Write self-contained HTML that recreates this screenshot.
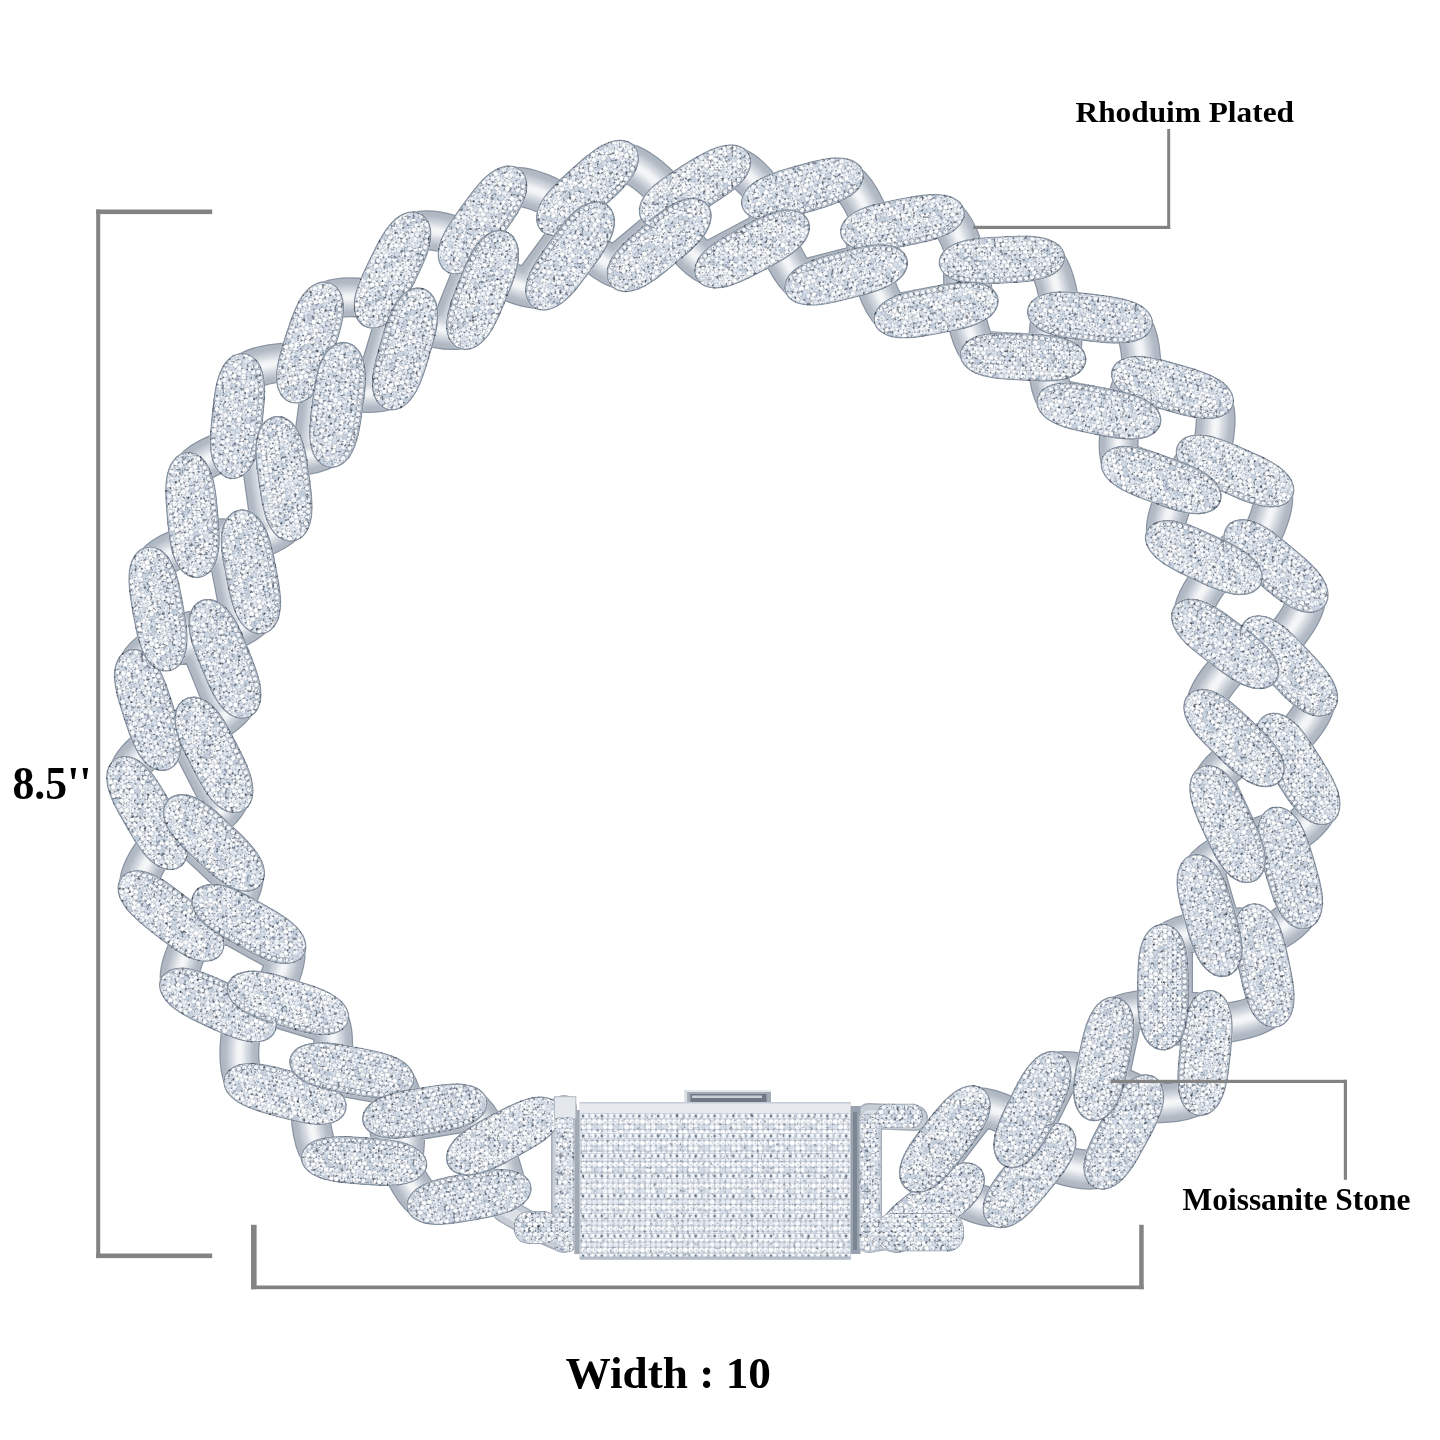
<!DOCTYPE html>
<html lang="en"><head><meta charset="utf-8"><title>Bracelet size guide</title>
<style>
html,body{margin:0;padding:0;background:#fff;}
body{width:1440px;height:1440px;overflow:hidden;}
svg{display:block;}
text{font-family:"Liberation Serif","DejaVu Serif",serif;font-weight:700;fill:#000;}
</style></head><body>
<svg width="1440" height="1440" viewBox="0 0 1440 1440">
<defs>
<pattern id="pv0" width="43.2" height="37.6" patternUnits="userSpaceOnUse" x="-2" y="-2"><rect width="43.2" height="37.6" fill="#aab3bf"/><circle cx="0" cy="0" r="2.5" fill="#fbfcfe"/><circle cx="5.4" cy="0" r="2.5" fill="#f3f6fa"/><circle cx="10.8" cy="0" r="2.5" fill="#ebf0f6"/><circle cx="11.5" cy="0.6" r="0.8" fill="#aebccd"/><circle cx="16.2" cy="0" r="2.5" fill="#eef2f7"/><circle cx="15.7" cy="0.5" r="1.2" fill="#b9c6d5"/><circle cx="21.6" cy="0" r="2.5" fill="#cbd5e1"/><circle cx="22.3" cy="0.6" r="0.8" fill="#aebccd"/><circle cx="27" cy="0" r="2.5" fill="#ffffff"/><circle cx="27.7" cy="0.6" r="0.8" fill="#aebccd"/><circle cx="32.4" cy="0" r="2.5" fill="#d6dee9"/><circle cx="33.1" cy="0.6" r="0.8" fill="#aebccd"/><circle cx="37.8" cy="0" r="2.5" fill="#f8fafc"/><circle cx="43.2" cy="0" r="2.5" fill="#fbfcfe"/><circle cx="2.7" cy="4.7" r="2.5" fill="#eef2f7"/><circle cx="8.1" cy="4.7" r="2.5" fill="#ffffff"/><circle cx="8.8" cy="5.3" r="0.8" fill="#aebccd"/><circle cx="13.5" cy="4.7" r="2.5" fill="#ffffff"/><circle cx="14" cy="4.2" r="1" fill="#fff"/><circle cx="18.9" cy="4.7" r="2.5" fill="#ffffff"/><circle cx="24.3" cy="4.7" r="2.5" fill="#ebf0f6"/><circle cx="29.7" cy="4.7" r="2.5" fill="#d6dee9"/><circle cx="35.1" cy="4.7" r="2.5" fill="#f8fafc"/><circle cx="35.6" cy="4.2" r="1" fill="#fff"/><circle cx="40.5" cy="4.7" r="2.5" fill="#e2e9f1"/><circle cx="40" cy="5.2" r="1.2" fill="#b9c6d5"/><circle cx="45.9" cy="4.7" r="2.5" fill="#eef2f7"/><circle cx="0" cy="9.4" r="2.5" fill="#cbd5e1"/><circle cx="0.7" cy="10" r="0.8" fill="#aebccd"/><circle cx="5.4" cy="9.4" r="2.5" fill="#ffffff"/><circle cx="4.9" cy="9.9" r="1.2" fill="#b9c6d5"/><circle cx="10.8" cy="9.4" r="2.5" fill="#fbfcfe"/><circle cx="16.2" cy="9.4" r="2.5" fill="#f8fafc"/><circle cx="16.9" cy="10" r="0.8" fill="#aebccd"/><circle cx="21.6" cy="9.4" r="2.5" fill="#ffffff"/><circle cx="27" cy="9.4" r="2.5" fill="#f8fafc"/><circle cx="26.5" cy="9.9" r="1.2" fill="#b9c6d5"/><circle cx="32.4" cy="9.4" r="2.5" fill="#e2e9f1"/><circle cx="37.8" cy="9.4" r="2.5" fill="#f3f6fa"/><circle cx="43.2" cy="9.4" r="2.5" fill="#cbd5e1"/><circle cx="43.9" cy="10" r="0.8" fill="#aebccd"/><circle cx="2.7" cy="14.1" r="2.5" fill="#ffffff"/><circle cx="3.4" cy="14.7" r="0.8" fill="#aebccd"/><circle cx="8.1" cy="14.1" r="2.5" fill="#e2e9f1"/><circle cx="13.5" cy="14.1" r="2.5" fill="#ffffff"/><circle cx="18.9" cy="14.1" r="2.5" fill="#ffffff"/><circle cx="18.4" cy="14.6" r="1.2" fill="#b9c6d5"/><circle cx="24.3" cy="14.1" r="2.5" fill="#ffffff"/><circle cx="29.7" cy="14.1" r="2.5" fill="#fbfcfe"/><circle cx="29.2" cy="14.6" r="1.2" fill="#b9c6d5"/><circle cx="35.1" cy="14.1" r="2.5" fill="#fbfcfe"/><circle cx="40.5" cy="14.1" r="2.5" fill="#d6dee9"/><circle cx="41" cy="13.6" r="1" fill="#fff"/><circle cx="45.9" cy="14.1" r="2.5" fill="#ffffff"/><circle cx="46.6" cy="14.7" r="0.8" fill="#aebccd"/><circle cx="0" cy="18.8" r="2.5" fill="#ffffff"/><circle cx="5.4" cy="18.8" r="2.5" fill="#ffffff"/><circle cx="5.9" cy="18.3" r="1" fill="#fff"/><circle cx="10.8" cy="18.8" r="2.5" fill="#ffffff"/><circle cx="10.3" cy="19.3" r="1.2" fill="#b9c6d5"/><circle cx="16.2" cy="18.8" r="2.5" fill="#ffffff"/><circle cx="16.7" cy="18.3" r="1" fill="#fff"/><circle cx="21.6" cy="18.8" r="2.5" fill="#f8fafc"/><circle cx="27" cy="18.8" r="2.5" fill="#f8fafc"/><circle cx="27.7" cy="19.4" r="0.8" fill="#aebccd"/><circle cx="32.4" cy="18.8" r="2.5" fill="#ffffff"/><circle cx="37.8" cy="18.8" r="2.5" fill="#ffffff"/><circle cx="38.5" cy="19.4" r="0.8" fill="#aebccd"/><circle cx="43.2" cy="18.8" r="2.5" fill="#ffffff"/><circle cx="2.7" cy="23.5" r="2.5" fill="#f3f6fa"/><circle cx="8.1" cy="23.5" r="2.5" fill="#ebf0f6"/><circle cx="8.8" cy="24.1" r="0.8" fill="#aebccd"/><circle cx="13.5" cy="23.5" r="2.5" fill="#f8fafc"/><circle cx="18.9" cy="23.5" r="2.5" fill="#cbd5e1"/><circle cx="18.4" cy="24" r="1.2" fill="#b9c6d5"/><circle cx="24.3" cy="23.5" r="2.5" fill="#eef2f7"/><circle cx="29.7" cy="23.5" r="2.5" fill="#eef2f7"/><circle cx="35.1" cy="23.5" r="2.5" fill="#f8fafc"/><circle cx="35.8" cy="24.1" r="0.8" fill="#aebccd"/><circle cx="40.5" cy="23.5" r="2.5" fill="#ffffff"/><circle cx="41.2" cy="24.1" r="0.8" fill="#aebccd"/><circle cx="45.9" cy="23.5" r="2.5" fill="#f3f6fa"/><circle cx="0" cy="28.2" r="2.5" fill="#f8fafc"/><circle cx="-0.5" cy="28.7" r="1.2" fill="#b9c6d5"/><circle cx="5.4" cy="28.2" r="2.5" fill="#e2e9f1"/><circle cx="10.8" cy="28.2" r="2.5" fill="#f3f6fa"/><circle cx="10.3" cy="28.7" r="1.2" fill="#b9c6d5"/><circle cx="16.2" cy="28.2" r="2.5" fill="#ffffff"/><circle cx="16.7" cy="27.7" r="1" fill="#fff"/><circle cx="21.6" cy="28.2" r="2.5" fill="#ebf0f6"/><circle cx="22.3" cy="28.8" r="0.8" fill="#aebccd"/><circle cx="27" cy="28.2" r="2.5" fill="#e2e9f1"/><circle cx="32.4" cy="28.2" r="2.5" fill="#ffffff"/><circle cx="37.8" cy="28.2" r="2.5" fill="#ffffff"/><circle cx="38.5" cy="28.8" r="0.8" fill="#aebccd"/><circle cx="43.2" cy="28.2" r="2.5" fill="#f8fafc"/><circle cx="42.7" cy="28.7" r="1.2" fill="#b9c6d5"/><circle cx="2.7" cy="32.9" r="2.5" fill="#f3f6fa"/><circle cx="3.2" cy="32.4" r="1" fill="#fff"/><circle cx="8.1" cy="32.9" r="2.5" fill="#ffffff"/><circle cx="8.8" cy="33.5" r="0.8" fill="#aebccd"/><circle cx="13.5" cy="32.9" r="2.5" fill="#ebf0f6"/><circle cx="14.2" cy="33.5" r="0.8" fill="#aebccd"/><circle cx="18.9" cy="32.9" r="2.5" fill="#f3f6fa"/><circle cx="24.3" cy="32.9" r="2.5" fill="#fbfcfe"/><circle cx="29.7" cy="32.9" r="2.5" fill="#fbfcfe"/><circle cx="29.2" cy="33.4" r="1.2" fill="#b9c6d5"/><circle cx="35.1" cy="32.9" r="2.5" fill="#ffffff"/><circle cx="35.8" cy="33.5" r="0.8" fill="#aebccd"/><circle cx="40.5" cy="32.9" r="2.5" fill="#fbfcfe"/><circle cx="45.9" cy="32.9" r="2.5" fill="#f3f6fa"/><circle cx="46.4" cy="32.4" r="1" fill="#fff"/><circle cx="0" cy="37.6" r="2.5" fill="#fbfcfe"/><circle cx="5.4" cy="37.6" r="2.5" fill="#f3f6fa"/><circle cx="10.8" cy="37.6" r="2.5" fill="#ebf0f6"/><circle cx="11.5" cy="38.2" r="0.8" fill="#aebccd"/><circle cx="16.2" cy="37.6" r="2.5" fill="#eef2f7"/><circle cx="15.7" cy="38.1" r="1.2" fill="#b9c6d5"/><circle cx="21.6" cy="37.6" r="2.5" fill="#cbd5e1"/><circle cx="22.3" cy="38.2" r="0.8" fill="#aebccd"/><circle cx="27" cy="37.6" r="2.5" fill="#ffffff"/><circle cx="27.7" cy="38.2" r="0.8" fill="#aebccd"/><circle cx="32.4" cy="37.6" r="2.5" fill="#d6dee9"/><circle cx="33.1" cy="38.2" r="0.8" fill="#aebccd"/><circle cx="37.8" cy="37.6" r="2.5" fill="#f8fafc"/><circle cx="43.2" cy="37.6" r="2.5" fill="#fbfcfe"/><circle cx="2.7" cy="1.6" r="0.6" fill="#5f6c7e"/><circle cx="24.3" cy="1.6" r="0.8" fill="#5f6c7e"/><circle cx="29.7" cy="1.6" r="0.6" fill="#5f6c7e"/><circle cx="35.1" cy="1.6" r="1" fill="#5f6c7e"/><circle cx="5.4" cy="6.3" r="0.6" fill="#5f6c7e"/><circle cx="16.2" cy="6.3" r="0.8" fill="#5f6c7e"/><circle cx="32.4" cy="6.3" r="1" fill="#5f6c7e"/><circle cx="37.8" cy="6.3" r="0.8" fill="#5f6c7e"/><circle cx="43.2" cy="6.3" r="0.6" fill="#5f6c7e"/><circle cx="2.7" cy="11" r="1" fill="#5f6c7e"/><circle cx="13.5" cy="11" r="0.8" fill="#5f6c7e"/><circle cx="18.9" cy="11" r="0.8" fill="#5f6c7e"/><circle cx="24.3" cy="11" r="0.6" fill="#5f6c7e"/><circle cx="35.1" cy="11" r="0.8" fill="#5f6c7e"/><circle cx="10.8" cy="15.7" r="1" fill="#5f6c7e"/><circle cx="37.8" cy="15.7" r="0.8" fill="#5f6c7e"/><circle cx="2.7" cy="20.4" r="1" fill="#5f6c7e"/><circle cx="24.3" cy="20.4" r="0.6" fill="#5f6c7e"/><circle cx="10.8" cy="25.1" r="0.8" fill="#5f6c7e"/><circle cx="32.4" cy="25.1" r="1" fill="#5f6c7e"/><circle cx="2.7" cy="29.8" r="1" fill="#5f6c7e"/><circle cx="18.9" cy="29.8" r="0.6" fill="#5f6c7e"/><circle cx="29.7" cy="29.8" r="1" fill="#5f6c7e"/><circle cx="40.5" cy="29.8" r="0.8" fill="#5f6c7e"/><circle cx="27" cy="34.5" r="1" fill="#5f6c7e"/><circle cx="32.4" cy="34.5" r="0.8" fill="#5f6c7e"/><circle cx="37.8" cy="34.5" r="0.6" fill="#5f6c7e"/></pattern>
<pattern id="pv1" width="43.2" height="37.6" patternUnits="userSpaceOnUse" x="-2" y="-2"><rect width="43.2" height="37.6" fill="#aab3bf"/><circle cx="0" cy="0" r="2.5" fill="#ffffff"/><circle cx="5.4" cy="0" r="2.5" fill="#ffffff"/><circle cx="5.9" cy="-0.5" r="1" fill="#fff"/><circle cx="10.8" cy="0" r="2.5" fill="#eef2f7"/><circle cx="16.2" cy="0" r="2.5" fill="#d6dee9"/><circle cx="21.6" cy="0" r="2.5" fill="#ebf0f6"/><circle cx="27" cy="0" r="2.5" fill="#f8fafc"/><circle cx="32.4" cy="0" r="2.5" fill="#f8fafc"/><circle cx="31.9" cy="0.5" r="1.2" fill="#b9c6d5"/><circle cx="37.8" cy="0" r="2.5" fill="#d6dee9"/><circle cx="43.2" cy="0" r="2.5" fill="#ffffff"/><circle cx="2.7" cy="4.7" r="2.5" fill="#eef2f7"/><circle cx="3.2" cy="4.2" r="1" fill="#fff"/><circle cx="8.1" cy="4.7" r="2.5" fill="#d6dee9"/><circle cx="13.5" cy="4.7" r="2.5" fill="#ffffff"/><circle cx="14.2" cy="5.3" r="0.8" fill="#aebccd"/><circle cx="18.9" cy="4.7" r="2.5" fill="#d6dee9"/><circle cx="24.3" cy="4.7" r="2.5" fill="#f3f6fa"/><circle cx="25" cy="5.3" r="0.8" fill="#aebccd"/><circle cx="29.7" cy="4.7" r="2.5" fill="#d6dee9"/><circle cx="35.1" cy="4.7" r="2.5" fill="#f3f6fa"/><circle cx="40.5" cy="4.7" r="2.5" fill="#f8fafc"/><circle cx="45.9" cy="4.7" r="2.5" fill="#eef2f7"/><circle cx="46.4" cy="4.2" r="1" fill="#fff"/><circle cx="0" cy="9.4" r="2.5" fill="#f3f6fa"/><circle cx="-0.5" cy="9.9" r="1.2" fill="#b9c6d5"/><circle cx="5.4" cy="9.4" r="2.5" fill="#ffffff"/><circle cx="10.8" cy="9.4" r="2.5" fill="#ebf0f6"/><circle cx="11.3" cy="8.9" r="1" fill="#fff"/><circle cx="16.2" cy="9.4" r="2.5" fill="#cbd5e1"/><circle cx="21.6" cy="9.4" r="2.5" fill="#eef2f7"/><circle cx="22.1" cy="8.9" r="1" fill="#fff"/><circle cx="27" cy="9.4" r="2.5" fill="#ffffff"/><circle cx="32.4" cy="9.4" r="2.5" fill="#f8fafc"/><circle cx="31.9" cy="9.9" r="1.2" fill="#b9c6d5"/><circle cx="37.8" cy="9.4" r="2.5" fill="#ffffff"/><circle cx="38.3" cy="8.9" r="1" fill="#fff"/><circle cx="43.2" cy="9.4" r="2.5" fill="#f3f6fa"/><circle cx="42.7" cy="9.9" r="1.2" fill="#b9c6d5"/><circle cx="2.7" cy="14.1" r="2.5" fill="#f8fafc"/><circle cx="8.1" cy="14.1" r="2.5" fill="#f8fafc"/><circle cx="7.6" cy="14.6" r="1.2" fill="#b9c6d5"/><circle cx="13.5" cy="14.1" r="2.5" fill="#ebf0f6"/><circle cx="18.9" cy="14.1" r="2.5" fill="#fbfcfe"/><circle cx="19.6" cy="14.7" r="0.8" fill="#aebccd"/><circle cx="24.3" cy="14.1" r="2.5" fill="#cbd5e1"/><circle cx="24.8" cy="13.6" r="1" fill="#fff"/><circle cx="29.7" cy="14.1" r="2.5" fill="#f8fafc"/><circle cx="35.1" cy="14.1" r="2.5" fill="#eef2f7"/><circle cx="40.5" cy="14.1" r="2.5" fill="#d6dee9"/><circle cx="45.9" cy="14.1" r="2.5" fill="#f8fafc"/><circle cx="0" cy="18.8" r="2.5" fill="#f8fafc"/><circle cx="5.4" cy="18.8" r="2.5" fill="#f3f6fa"/><circle cx="10.8" cy="18.8" r="2.5" fill="#f3f6fa"/><circle cx="16.2" cy="18.8" r="2.5" fill="#ffffff"/><circle cx="15.7" cy="19.3" r="1.2" fill="#b9c6d5"/><circle cx="21.6" cy="18.8" r="2.5" fill="#ebf0f6"/><circle cx="22.1" cy="18.3" r="1" fill="#fff"/><circle cx="27" cy="18.8" r="2.5" fill="#e2e9f1"/><circle cx="32.4" cy="18.8" r="2.5" fill="#f8fafc"/><circle cx="31.9" cy="19.3" r="1.2" fill="#b9c6d5"/><circle cx="37.8" cy="18.8" r="2.5" fill="#e2e9f1"/><circle cx="43.2" cy="18.8" r="2.5" fill="#f8fafc"/><circle cx="2.7" cy="23.5" r="2.5" fill="#cbd5e1"/><circle cx="8.1" cy="23.5" r="2.5" fill="#ebf0f6"/><circle cx="13.5" cy="23.5" r="2.5" fill="#fbfcfe"/><circle cx="14" cy="23" r="1" fill="#fff"/><circle cx="18.9" cy="23.5" r="2.5" fill="#fbfcfe"/><circle cx="24.3" cy="23.5" r="2.5" fill="#cbd5e1"/><circle cx="29.7" cy="23.5" r="2.5" fill="#f3f6fa"/><circle cx="30.2" cy="23" r="1" fill="#fff"/><circle cx="35.1" cy="23.5" r="2.5" fill="#f3f6fa"/><circle cx="35.8" cy="24.1" r="0.8" fill="#aebccd"/><circle cx="40.5" cy="23.5" r="2.5" fill="#fbfcfe"/><circle cx="45.9" cy="23.5" r="2.5" fill="#cbd5e1"/><circle cx="0" cy="28.2" r="2.5" fill="#f3f6fa"/><circle cx="5.4" cy="28.2" r="2.5" fill="#cbd5e1"/><circle cx="10.8" cy="28.2" r="2.5" fill="#ffffff"/><circle cx="16.2" cy="28.2" r="2.5" fill="#f3f6fa"/><circle cx="16.9" cy="28.8" r="0.8" fill="#aebccd"/><circle cx="21.6" cy="28.2" r="2.5" fill="#d6dee9"/><circle cx="22.1" cy="27.7" r="1" fill="#fff"/><circle cx="27" cy="28.2" r="2.5" fill="#fbfcfe"/><circle cx="27.7" cy="28.8" r="0.8" fill="#aebccd"/><circle cx="32.4" cy="28.2" r="2.5" fill="#cbd5e1"/><circle cx="33.1" cy="28.8" r="0.8" fill="#aebccd"/><circle cx="37.8" cy="28.2" r="2.5" fill="#ffffff"/><circle cx="43.2" cy="28.2" r="2.5" fill="#f3f6fa"/><circle cx="2.7" cy="32.9" r="2.5" fill="#d6dee9"/><circle cx="8.1" cy="32.9" r="2.5" fill="#eef2f7"/><circle cx="8.8" cy="33.5" r="0.8" fill="#aebccd"/><circle cx="13.5" cy="32.9" r="2.5" fill="#eef2f7"/><circle cx="14" cy="32.4" r="1" fill="#fff"/><circle cx="18.9" cy="32.9" r="2.5" fill="#ffffff"/><circle cx="24.3" cy="32.9" r="2.5" fill="#f8fafc"/><circle cx="29.7" cy="32.9" r="2.5" fill="#f8fafc"/><circle cx="35.1" cy="32.9" r="2.5" fill="#eef2f7"/><circle cx="34.6" cy="33.4" r="1.2" fill="#b9c6d5"/><circle cx="40.5" cy="32.9" r="2.5" fill="#eef2f7"/><circle cx="45.9" cy="32.9" r="2.5" fill="#d6dee9"/><circle cx="0" cy="37.6" r="2.5" fill="#ffffff"/><circle cx="5.4" cy="37.6" r="2.5" fill="#ffffff"/><circle cx="5.9" cy="37.1" r="1" fill="#fff"/><circle cx="10.8" cy="37.6" r="2.5" fill="#eef2f7"/><circle cx="16.2" cy="37.6" r="2.5" fill="#d6dee9"/><circle cx="21.6" cy="37.6" r="2.5" fill="#ebf0f6"/><circle cx="27" cy="37.6" r="2.5" fill="#f8fafc"/><circle cx="32.4" cy="37.6" r="2.5" fill="#f8fafc"/><circle cx="31.9" cy="38.1" r="1.2" fill="#b9c6d5"/><circle cx="37.8" cy="37.6" r="2.5" fill="#d6dee9"/><circle cx="43.2" cy="37.6" r="2.5" fill="#ffffff"/><circle cx="29.7" cy="1.6" r="1" fill="#5f6c7e"/><circle cx="5.4" cy="6.3" r="1" fill="#5f6c7e"/><circle cx="21.6" cy="6.3" r="1" fill="#5f6c7e"/><circle cx="8.1" cy="11" r="0.6" fill="#5f6c7e"/><circle cx="24.3" cy="11" r="0.6" fill="#5f6c7e"/><circle cx="35.1" cy="11" r="0.8" fill="#5f6c7e"/><circle cx="27" cy="15.7" r="0.6" fill="#5f6c7e"/><circle cx="32.4" cy="15.7" r="1" fill="#5f6c7e"/><circle cx="2.7" cy="20.4" r="0.8" fill="#5f6c7e"/><circle cx="8.1" cy="20.4" r="0.8" fill="#5f6c7e"/><circle cx="13.5" cy="20.4" r="0.8" fill="#5f6c7e"/><circle cx="18.9" cy="20.4" r="0.8" fill="#5f6c7e"/><circle cx="35.1" cy="20.4" r="0.8" fill="#5f6c7e"/><circle cx="5.4" cy="25.1" r="1" fill="#5f6c7e"/><circle cx="16.2" cy="25.1" r="0.8" fill="#5f6c7e"/><circle cx="27" cy="25.1" r="0.8" fill="#5f6c7e"/><circle cx="32.4" cy="25.1" r="0.6" fill="#5f6c7e"/><circle cx="37.8" cy="25.1" r="0.6" fill="#5f6c7e"/><circle cx="43.2" cy="25.1" r="1" fill="#5f6c7e"/><circle cx="13.5" cy="29.8" r="0.8" fill="#5f6c7e"/><circle cx="24.3" cy="29.8" r="1" fill="#5f6c7e"/><circle cx="40.5" cy="29.8" r="1" fill="#5f6c7e"/><circle cx="5.4" cy="34.5" r="0.8" fill="#5f6c7e"/><circle cx="21.6" cy="34.5" r="1" fill="#5f6c7e"/><circle cx="27" cy="34.5" r="0.8" fill="#5f6c7e"/></pattern>
<pattern id="pv2" width="43.2" height="37.6" patternUnits="userSpaceOnUse" x="-2" y="-2"><rect width="43.2" height="37.6" fill="#aab3bf"/><circle cx="0" cy="0" r="2.5" fill="#ffffff"/><circle cx="-0.5" cy="0.5" r="1.2" fill="#b9c6d5"/><circle cx="5.4" cy="0" r="2.5" fill="#d6dee9"/><circle cx="6.1" cy="0.6" r="0.8" fill="#aebccd"/><circle cx="10.8" cy="0" r="2.5" fill="#ffffff"/><circle cx="11.5" cy="0.6" r="0.8" fill="#aebccd"/><circle cx="16.2" cy="0" r="2.5" fill="#e2e9f1"/><circle cx="16.9" cy="0.6" r="0.8" fill="#aebccd"/><circle cx="21.6" cy="0" r="2.5" fill="#ffffff"/><circle cx="22.3" cy="0.6" r="0.8" fill="#aebccd"/><circle cx="27" cy="0" r="2.5" fill="#eef2f7"/><circle cx="32.4" cy="0" r="2.5" fill="#ffffff"/><circle cx="37.8" cy="0" r="2.5" fill="#ffffff"/><circle cx="43.2" cy="0" r="2.5" fill="#ffffff"/><circle cx="42.7" cy="0.5" r="1.2" fill="#b9c6d5"/><circle cx="2.7" cy="4.7" r="2.5" fill="#ffffff"/><circle cx="8.1" cy="4.7" r="2.5" fill="#cbd5e1"/><circle cx="13.5" cy="4.7" r="2.5" fill="#f8fafc"/><circle cx="14.2" cy="5.3" r="0.8" fill="#aebccd"/><circle cx="18.9" cy="4.7" r="2.5" fill="#ffffff"/><circle cx="19.4" cy="4.2" r="1" fill="#fff"/><circle cx="24.3" cy="4.7" r="2.5" fill="#ffffff"/><circle cx="29.7" cy="4.7" r="2.5" fill="#ffffff"/><circle cx="29.2" cy="5.2" r="1.2" fill="#b9c6d5"/><circle cx="35.1" cy="4.7" r="2.5" fill="#eef2f7"/><circle cx="35.8" cy="5.3" r="0.8" fill="#aebccd"/><circle cx="40.5" cy="4.7" r="2.5" fill="#ffffff"/><circle cx="41" cy="4.2" r="1" fill="#fff"/><circle cx="45.9" cy="4.7" r="2.5" fill="#ffffff"/><circle cx="0" cy="9.4" r="2.5" fill="#ffffff"/><circle cx="5.4" cy="9.4" r="2.5" fill="#f8fafc"/><circle cx="10.8" cy="9.4" r="2.5" fill="#cbd5e1"/><circle cx="16.2" cy="9.4" r="2.5" fill="#d6dee9"/><circle cx="21.6" cy="9.4" r="2.5" fill="#cbd5e1"/><circle cx="22.3" cy="10" r="0.8" fill="#aebccd"/><circle cx="27" cy="9.4" r="2.5" fill="#e2e9f1"/><circle cx="26.5" cy="9.9" r="1.2" fill="#b9c6d5"/><circle cx="32.4" cy="9.4" r="2.5" fill="#f8fafc"/><circle cx="32.9" cy="8.9" r="1" fill="#fff"/><circle cx="37.8" cy="9.4" r="2.5" fill="#fbfcfe"/><circle cx="38.3" cy="8.9" r="1" fill="#fff"/><circle cx="43.2" cy="9.4" r="2.5" fill="#ffffff"/><circle cx="2.7" cy="14.1" r="2.5" fill="#ffffff"/><circle cx="2.2" cy="14.6" r="1.2" fill="#b9c6d5"/><circle cx="8.1" cy="14.1" r="2.5" fill="#ffffff"/><circle cx="13.5" cy="14.1" r="2.5" fill="#ffffff"/><circle cx="14.2" cy="14.7" r="0.8" fill="#aebccd"/><circle cx="18.9" cy="14.1" r="2.5" fill="#e2e9f1"/><circle cx="24.3" cy="14.1" r="2.5" fill="#ebf0f6"/><circle cx="23.8" cy="14.6" r="1.2" fill="#b9c6d5"/><circle cx="29.7" cy="14.1" r="2.5" fill="#f8fafc"/><circle cx="35.1" cy="14.1" r="2.5" fill="#f8fafc"/><circle cx="40.5" cy="14.1" r="2.5" fill="#ebf0f6"/><circle cx="41.2" cy="14.7" r="0.8" fill="#aebccd"/><circle cx="45.9" cy="14.1" r="2.5" fill="#ffffff"/><circle cx="45.4" cy="14.6" r="1.2" fill="#b9c6d5"/><circle cx="0" cy="18.8" r="2.5" fill="#e2e9f1"/><circle cx="0.7" cy="19.4" r="0.8" fill="#aebccd"/><circle cx="5.4" cy="18.8" r="2.5" fill="#ebf0f6"/><circle cx="10.8" cy="18.8" r="2.5" fill="#fbfcfe"/><circle cx="11.3" cy="18.3" r="1" fill="#fff"/><circle cx="16.2" cy="18.8" r="2.5" fill="#f8fafc"/><circle cx="15.7" cy="19.3" r="1.2" fill="#b9c6d5"/><circle cx="21.6" cy="18.8" r="2.5" fill="#f8fafc"/><circle cx="27" cy="18.8" r="2.5" fill="#f8fafc"/><circle cx="27.5" cy="18.3" r="1" fill="#fff"/><circle cx="32.4" cy="18.8" r="2.5" fill="#e2e9f1"/><circle cx="33.1" cy="19.4" r="0.8" fill="#aebccd"/><circle cx="37.8" cy="18.8" r="2.5" fill="#fbfcfe"/><circle cx="43.2" cy="18.8" r="2.5" fill="#e2e9f1"/><circle cx="43.9" cy="19.4" r="0.8" fill="#aebccd"/><circle cx="2.7" cy="23.5" r="2.5" fill="#eef2f7"/><circle cx="8.1" cy="23.5" r="2.5" fill="#cbd5e1"/><circle cx="7.6" cy="24" r="1.2" fill="#b9c6d5"/><circle cx="13.5" cy="23.5" r="2.5" fill="#ffffff"/><circle cx="18.9" cy="23.5" r="2.5" fill="#ffffff"/><circle cx="24.3" cy="23.5" r="2.5" fill="#ffffff"/><circle cx="23.8" cy="24" r="1.2" fill="#b9c6d5"/><circle cx="29.7" cy="23.5" r="2.5" fill="#ebf0f6"/><circle cx="30.4" cy="24.1" r="0.8" fill="#aebccd"/><circle cx="35.1" cy="23.5" r="2.5" fill="#ffffff"/><circle cx="34.6" cy="24" r="1.2" fill="#b9c6d5"/><circle cx="40.5" cy="23.5" r="2.5" fill="#f8fafc"/><circle cx="45.9" cy="23.5" r="2.5" fill="#eef2f7"/><circle cx="0" cy="28.2" r="2.5" fill="#ffffff"/><circle cx="-0.5" cy="28.7" r="1.2" fill="#b9c6d5"/><circle cx="5.4" cy="28.2" r="2.5" fill="#e2e9f1"/><circle cx="5.9" cy="27.7" r="1" fill="#fff"/><circle cx="10.8" cy="28.2" r="2.5" fill="#ffffff"/><circle cx="11.3" cy="27.7" r="1" fill="#fff"/><circle cx="16.2" cy="28.2" r="2.5" fill="#ffffff"/><circle cx="16.9" cy="28.8" r="0.8" fill="#aebccd"/><circle cx="21.6" cy="28.2" r="2.5" fill="#cbd5e1"/><circle cx="22.1" cy="27.7" r="1" fill="#fff"/><circle cx="27" cy="28.2" r="2.5" fill="#d6dee9"/><circle cx="32.4" cy="28.2" r="2.5" fill="#eef2f7"/><circle cx="32.9" cy="27.7" r="1" fill="#fff"/><circle cx="37.8" cy="28.2" r="2.5" fill="#f8fafc"/><circle cx="43.2" cy="28.2" r="2.5" fill="#ffffff"/><circle cx="42.7" cy="28.7" r="1.2" fill="#b9c6d5"/><circle cx="2.7" cy="32.9" r="2.5" fill="#f8fafc"/><circle cx="2.2" cy="33.4" r="1.2" fill="#b9c6d5"/><circle cx="8.1" cy="32.9" r="2.5" fill="#e2e9f1"/><circle cx="13.5" cy="32.9" r="2.5" fill="#ebf0f6"/><circle cx="18.9" cy="32.9" r="2.5" fill="#f8fafc"/><circle cx="24.3" cy="32.9" r="2.5" fill="#ebf0f6"/><circle cx="25" cy="33.5" r="0.8" fill="#aebccd"/><circle cx="29.7" cy="32.9" r="2.5" fill="#eef2f7"/><circle cx="30.4" cy="33.5" r="0.8" fill="#aebccd"/><circle cx="35.1" cy="32.9" r="2.5" fill="#f8fafc"/><circle cx="40.5" cy="32.9" r="2.5" fill="#d6dee9"/><circle cx="45.9" cy="32.9" r="2.5" fill="#f8fafc"/><circle cx="45.4" cy="33.4" r="1.2" fill="#b9c6d5"/><circle cx="0" cy="37.6" r="2.5" fill="#ffffff"/><circle cx="-0.5" cy="38.1" r="1.2" fill="#b9c6d5"/><circle cx="5.4" cy="37.6" r="2.5" fill="#d6dee9"/><circle cx="6.1" cy="38.2" r="0.8" fill="#aebccd"/><circle cx="10.8" cy="37.6" r="2.5" fill="#ffffff"/><circle cx="11.5" cy="38.2" r="0.8" fill="#aebccd"/><circle cx="16.2" cy="37.6" r="2.5" fill="#e2e9f1"/><circle cx="16.9" cy="38.2" r="0.8" fill="#aebccd"/><circle cx="21.6" cy="37.6" r="2.5" fill="#ffffff"/><circle cx="22.3" cy="38.2" r="0.8" fill="#aebccd"/><circle cx="27" cy="37.6" r="2.5" fill="#eef2f7"/><circle cx="32.4" cy="37.6" r="2.5" fill="#ffffff"/><circle cx="37.8" cy="37.6" r="2.5" fill="#ffffff"/><circle cx="43.2" cy="37.6" r="2.5" fill="#ffffff"/><circle cx="42.7" cy="38.1" r="1.2" fill="#b9c6d5"/><circle cx="8.1" cy="1.6" r="0.6" fill="#5f6c7e"/><circle cx="40.5" cy="1.6" r="0.8" fill="#5f6c7e"/><circle cx="16.2" cy="6.3" r="0.6" fill="#5f6c7e"/><circle cx="21.6" cy="6.3" r="1" fill="#5f6c7e"/><circle cx="27" cy="6.3" r="0.6" fill="#5f6c7e"/><circle cx="37.8" cy="6.3" r="1" fill="#5f6c7e"/><circle cx="2.7" cy="11" r="1" fill="#5f6c7e"/><circle cx="21.6" cy="15.7" r="0.6" fill="#5f6c7e"/><circle cx="2.7" cy="20.4" r="0.6" fill="#5f6c7e"/><circle cx="13.5" cy="20.4" r="0.6" fill="#5f6c7e"/><circle cx="35.1" cy="20.4" r="1" fill="#5f6c7e"/><circle cx="40.5" cy="20.4" r="0.8" fill="#5f6c7e"/><circle cx="5.4" cy="25.1" r="0.6" fill="#5f6c7e"/><circle cx="10.8" cy="25.1" r="0.8" fill="#5f6c7e"/><circle cx="16.2" cy="25.1" r="1" fill="#5f6c7e"/><circle cx="21.6" cy="25.1" r="1" fill="#5f6c7e"/><circle cx="27" cy="25.1" r="0.8" fill="#5f6c7e"/><circle cx="43.2" cy="25.1" r="1" fill="#5f6c7e"/><circle cx="8.1" cy="29.8" r="1" fill="#5f6c7e"/><circle cx="13.5" cy="29.8" r="1" fill="#5f6c7e"/><circle cx="18.9" cy="29.8" r="0.8" fill="#5f6c7e"/><circle cx="24.3" cy="29.8" r="0.8" fill="#5f6c7e"/><circle cx="29.7" cy="29.8" r="0.6" fill="#5f6c7e"/><circle cx="35.1" cy="29.8" r="0.8" fill="#5f6c7e"/><circle cx="40.5" cy="29.8" r="1" fill="#5f6c7e"/><circle cx="10.8" cy="34.5" r="0.6" fill="#5f6c7e"/><circle cx="16.2" cy="34.5" r="0.6" fill="#5f6c7e"/></pattern>
<pattern id="cl" width="18.8" height="20" patternUnits="userSpaceOnUse" x="583" y="1106"><rect y="7" width="18.8" height="6" fill="#c9d0d9"/><circle cx="3.1" cy="10" r="2.5" fill="#edf1f5"/><circle cx="3.5" cy="9.4" r="1.1" fill="#fff"/><circle cx="9.4" cy="10" r="2.5" fill="#edf1f5"/><circle cx="9.8" cy="9.4" r="1.1" fill="#fff"/><circle cx="15.6" cy="10" r="2.5" fill="#edf1f5"/><circle cx="16" cy="9.4" r="1.1" fill="#fff"/><circle cx="0" cy="10" r="1.3" fill="#6c7888"/><circle cx="18.8" cy="10" r="1.3" fill="#6c7888"/><circle cx="6.25" cy="10" r="0.7" fill="#8793a3"/><circle cx="12.5" cy="10" r="0.9" fill="#7a8797"/></pattern>
<path id="b0" d="M63.5 0L63.3 2.9L62.5 5.8L61.3 8.6L59.6 11.3L57.4 13.8L54.7 16.2L51.5 18.4L47.7 20.3L43.3 22L38.3 23.4L32.4 24.5L25.5 25.3L16.8 25.8L0 26L-16.8 25.8L-25.5 25.3L-32.4 24.5L-38.3 23.4L-43.3 22L-47.7 20.3L-51.5 18.4L-54.7 16.2L-57.4 13.8L-59.6 11.3L-61.3 8.6L-62.5 5.8L-63.3 2.9L-63.5 0L-63.3 -2.9L-62.5 -5.8L-61.3 -8.6L-59.6 -11.3L-57.4 -13.8L-54.7 -16.2L-51.5 -18.4L-47.7 -20.3L-43.3 -22L-38.3 -23.4L-32.4 -24.5L-25.5 -25.3L-16.8 -25.8L-0 -26L16.8 -25.8L25.5 -25.3L32.4 -24.5L38.3 -23.4L43.3 -22L47.7 -20.3L51.5 -18.4L54.7 -16.2L57.4 -13.8L59.6 -11.3L61.3 -8.6L62.5 -5.8L63.3 -2.9Z"/>
<path id="b1" d="M62 0L61.8 2.7L61.1 5.5L59.9 8.1L58.2 10.6L56.1 13L53.4 15.3L50.3 17.3L46.6 19.2L42.3 20.7L37.4 22.1L31.7 23.1L24.9 23.9L16.4 24.3L0 24.5L-16.4 24.3L-24.9 23.9L-31.7 23.1L-37.4 22.1L-42.3 20.7L-46.6 19.2L-50.3 17.3L-53.4 15.3L-56.1 13L-58.2 10.6L-59.9 8.1L-61.1 5.5L-61.8 2.7L-62 0L-61.8 -2.7L-61.1 -5.5L-59.9 -8.1L-58.2 -10.6L-56.1 -13L-53.4 -15.3L-50.3 -17.3L-46.6 -19.2L-42.3 -20.7L-37.4 -22.1L-31.7 -23.1L-24.9 -23.9L-16.4 -24.3L-0 -24.5L16.4 -24.3L24.9 -23.9L31.7 -23.1L37.4 -22.1L42.3 -20.7L46.6 -19.2L50.3 -17.3L53.4 -15.3L56.1 -13L58.2 -10.6L59.9 -8.1L61.1 -5.5L61.8 -2.7Z"/>
<path id="b2" d="M59.1 0L58.9 2.4L58.2 4.8L57.1 7.1L55.5 9.4L53.4 11.5L50.9 13.5L47.9 15.3L44.4 16.9L40.3 18.3L35.6 19.5L30.2 20.4L23.8 21.1L15.7 21.5L0 21.6L-15.7 21.5L-23.8 21.1L-30.2 20.4L-35.6 19.5L-40.3 18.3L-44.4 16.9L-47.9 15.3L-50.9 13.5L-53.4 11.5L-55.5 9.4L-57.1 7.1L-58.2 4.8L-58.9 2.4L-59.1 0L-58.9 -2.4L-58.2 -4.8L-57.1 -7.1L-55.5 -9.4L-53.4 -11.5L-50.9 -13.5L-47.9 -15.3L-44.4 -16.9L-40.3 -18.3L-35.6 -19.5L-30.2 -20.4L-23.8 -21.1L-15.7 -21.5L-0 -21.6L15.7 -21.5L23.8 -21.1L30.2 -20.4L35.6 -19.5L40.3 -18.3L44.4 -16.9L47.9 -15.3L50.9 -13.5L53.4 -11.5L55.5 -9.4L57.1 -7.1L58.2 -4.8L58.9 -2.4Z"/>
<filter id="nz" x="0" y="0" width="1440" height="1440" filterUnits="userSpaceOnUse" color-interpolation-filters="sRGB"><feTurbulence type="fractalNoise" baseFrequency="0.32" numOctaves="2" seed="4" result="n"/><feColorMatrix in="n" type="matrix" values="2.1 0 0 0 0.1  2.1 0 0 0 0.11  2.1 0 0 0 0.13  0 0 0 0 1" result="g"/><feBlend in="SourceGraphic" in2="g" mode="multiply" result="b"/><feComposite in="b" in2="SourceAlpha" operator="in"/></filter>
<filter id="nz2" x="540" y="1080" width="440" height="200" filterUnits="userSpaceOnUse" color-interpolation-filters="sRGB"><feTurbulence type="fractalNoise" baseFrequency="0.3" numOctaves="2" seed="9" result="n"/><feColorMatrix in="n" type="matrix" values="1.5 0 0 0 0.42  1.5 0 0 0 0.43  1.5 0 0 0 0.445  0 0 0 0 1" result="g"/><feBlend in="SourceGraphic" in2="g" mode="multiply" result="b"/><feComposite in="b" in2="SourceAlpha" operator="in"/></filter>
<pattern id="cs" width="21.4" height="21.4" patternUnits="userSpaceOnUse" x="581" y="1113.5"><rect width="21.4" height="21.4" fill="#b4bdc9"/><circle cx="2.7" cy="2.7" r="2.5" fill="#fafbfd"/><circle cx="8" cy="2.7" r="2.5" fill="#e7ecf3"/><circle cx="13.4" cy="2.7" r="2.5" fill="#e7ecf3"/><circle cx="18.7" cy="2.7" r="2.5" fill="#e7ecf3"/><circle cx="2.7" cy="8" r="2.5" fill="#ffffff"/><circle cx="3.2" cy="8.5" r="0.9" fill="#c2cddb"/><circle cx="8" cy="8" r="2.5" fill="#ffffff"/><circle cx="8.5" cy="8.5" r="0.9" fill="#c2cddb"/><circle cx="13.4" cy="8" r="2.5" fill="#ffffff"/><circle cx="13.9" cy="8.5" r="0.9" fill="#c2cddb"/><circle cx="18.7" cy="8" r="2.5" fill="#ffffff"/><circle cx="2.7" cy="13.4" r="2.5" fill="#fafbfd"/><circle cx="8" cy="13.4" r="2.5" fill="#fafbfd"/><circle cx="13.4" cy="13.4" r="2.5" fill="#dde4ed"/><circle cx="13.9" cy="13.9" r="0.9" fill="#c2cddb"/><circle cx="18.7" cy="13.4" r="2.5" fill="#dde4ed"/><circle cx="2.7" cy="18.7" r="2.5" fill="#e7ecf3"/><circle cx="8" cy="18.7" r="2.5" fill="#ffffff"/><circle cx="13.4" cy="18.7" r="2.5" fill="#ffffff"/><circle cx="18.7" cy="18.7" r="2.5" fill="#ffffff"/></pattern>
<filter id="bl" x="0" y="0" width="1440" height="1440" filterUnits="userSpaceOnUse"><feGaussianBlur stdDeviation="2.2"/></filter>
<clipPath id="hp"><rect x="8" y="-40" width="70" height="80"/></clipPath><clipPath id="hn"><rect x="-78" y="-40" width="70" height="80"/></clipPath><clipPath id="cp"><rect x="-53" y="8" width="106" height="30"/></clipPath><clipPath id="cn"><rect x="-53" y="-38" width="106" height="30"/></clipPath>
<linearGradient id="mg" x1="0" y1="0" x2="1" y2="1"><stop offset="0" stop-color="#e9edf1"/><stop offset="1" stop-color="#bcc4ce"/></linearGradient>
</defs>
<rect width="1440" height="1440" fill="#fff"/>
<defs><path id="lp" d="M505.9 1190.5L432.1 1203.5C408.1 1201.6 385.3 1125.6 389.3 1125L463.3 1112.8L462 1104.9C485.9 1106.7 509.9 1189.8 505.9 1190.5ZM401.4 1163.6L326.6 1158.4C304.4 1149.3 309.7 1071 313.7 1071.7L387.5 1085.1L388.9 1077.2C411.5 1085.3 405.4 1163.9 401.4 1163.6ZM321.2 1103.7L248.8 1084.3C228.9 1070.9 246 998.5 249.8 999.7L321.5 1021.6L323.9 1014C344.3 1026.6 325.1 1104.7 321.2 1103.7ZM252 1020.8L184 989.2C166.6 972.6 207.9 912.6 211.4 914.6L277 950.9L281.8 942.2C298.4 959.5 255.6 1022.5 252 1020.8ZM200.6 939.1L141.4 892.9C128.6 872.7 175.5 823.5 178.4 826.2L233.2 877.4L241.4 868.6C255.3 888.2 203.7 941.5 200.6 939.1ZM166.2 845.5L128.8 780.5C122.6 757.3 181.8 724.8 183.6 728.4L217.7 795.2L231 788.4C236.6 811.7 168.2 848.9 166.2 845.5ZM159.6 745.7L136.4 674.3C133.8 650.5 192.8 627.3 194.3 631L222.4 700.5L239 693.8C242.3 717.6 160.8 749.5 159.6 745.7ZM164.5 645.9L151.5 572.1C153.6 548.2 224.4 534.9 225.2 538.8L239.5 612.4L258.2 608.8C257 632.8 165.2 649.9 164.5 645.9ZM195.8 552.4L189.2 477.6C193.3 454 258.4 440.7 259 444.6L269.4 518.9L289.2 516.1C286.8 540 196.1 556.3 195.8 552.4ZM233.6 453.3L241.4 378.7C251.7 357 324.2 361.4 323.6 365.3L313.7 439.7L332.5 442.2C323.7 464.5 233.2 457.3 233.6 453.3ZM298.4 378.2L321.6 306.8C334.8 286.8 399.6 304.1 398.5 307.9L377 379.8L394.3 384.9C381.1 405 297.2 382 298.4 378.2ZM376.1 303.7L408.9 236.3C425.5 218.9 483.2 245.5 481.7 249.2L453.6 318.8L468.5 324.8C453.9 343.8 374.3 307.3 376.1 303.7ZM460.5 250.3L504.5 189.7C524.1 175.7 583.1 214.2 580.7 217.4L536.6 278.1L548 286.3C528.9 301 458.1 253.6 460.5 250.3ZM559.6 213.1L615.4 162.9C637.7 154.2 683.1 209.1 680 211.7L622.6 259.9L630.3 269.1C608.3 278.7 556.7 215.8 559.6 213.1ZM663.2 206.4L726.8 166.6C749.9 160.3 784.3 221.3 780.7 223.2L714.5 258.4L718.9 266.6C695.5 271.9 659.8 208.5 663.2 206.4ZM766.5 199.3L838.5 178.7C862.5 179.2 884.5 258.2 880.6 259.2L808 277.9L809.7 284.4C785.7 284.2 762.6 200.4 766.5 199.3ZM865.7 229.7L939.3 215.3C963.2 217.4 976 298.4 972.1 299.1L898.4 313L899.2 317C875.3 314.8 861.8 230.4 865.7 229.7ZM964.6 262L1039.4 258C1062.6 264.3 1064.7 355.2 1060.7 355L985.8 351L985.6 355C962.4 348.5 960.6 262.2 964.6 262ZM1052.7 313.2L1127.3 321.8C1149.3 331.4 1140.3 415 1136.3 414.2L1062.7 399.9L1061.9 403.8C1039.9 394.4 1048.8 312.7 1052.7 313.2ZM1136.5 377.2L1208.5 397.8C1228.3 411.5 1201.4 490.4 1197.6 489.1L1127.1 463.4L1125.8 467.2C1105.9 453.8 1132.6 376.1 1136.5 377.2ZM1200.6 456L1269.4 486C1286.3 503 1243.1 571.4 1239.4 569.7L1171.5 538L1169.8 541.7C1152.2 525.3 1197 454.4 1200.6 456ZM1247.2 542L1304.8 590C1316.4 611 1260.6 665.5 1257.4 663.1L1197.5 618L1195.1 621.2C1181.8 601.2 1244.1 539.4 1247.2 542ZM1263.2 638.8L1314.8 693.2C1324.7 715.1 1266.8 763.7 1263.9 761L1209.6 709.2L1206.8 712.1C1196.4 690.6 1260.4 635.9 1263.2 638.8ZM1278.1 737.2L1317.9 800.8C1323.6 824.1 1250.5 859.1 1248.8 855.5L1217.1 787.5L1211.7 790C1207.3 766.4 1276 733.8 1278.1 737.2ZM1279.5 832L1300.5 904C1300.8 928 1228.8 953.1 1227.6 949.3L1206.7 877.3L1199 879.5C1198 855.5 1278.4 828.2 1279.5 832ZM1256.2 928.8L1271.8 1002.2C1267.2 1025.7 1173 1028.5 1173 1024.5L1173 949.5L1163 949.5C1169.8 926.5 1255.4 924.9 1256.2 928.8ZM1208.9 1015.7L1201.1 1090.3C1190.6 1111.9 1104.4 1101.3 1105.2 1097.4L1120.8 1024L1111.5 1022.1C1122 1000.5 1209.3 1011.7 1208.9 1015.7ZM1141.7 1099.1L1105.8 1164.9C1088.3 1181.3 1022.2 1150.7 1024 1147.1L1057.2 1079.9L1049.1 1075.9C1064.7 1057.6 1143.6 1095.6 1141.7 1099.1ZM1053.4 1146.6L1005.6 1204.4C985.7 1217.9 926.4 1177.1 928.9 1173.9L974.6 1114.5L967.9 1109.3C987.4 1095.3 1056 1143.5 1053.4 1146.6Z"/></defs>
<g fill="none" stroke-linejoin="round" stroke-linecap="round">
<use href="#lp" stroke="#8a94a1" stroke-width="40"/>
<use href="#lp" stroke="#b0b8c3" stroke-width="37.5"/>
<g filter="url(#bl)"><use href="#lp" stroke="#d0d6dd" stroke-width="23"/><use href="#lp" stroke="#f4f6f8" stroke-width="10"/></g>
</g>
<g fill="none" stroke-linejoin="round" stroke-linecap="round"><path d="M528 1122L564 1108L564 1240L536 1228L505 1210M915 1118L869 1116L869 1240L905 1234L950 1226" stroke="#a3acb7" stroke-width="26"/><path d="M528 1122L564 1108L564 1240L536 1228L505 1210M915 1118L869 1116L869 1240L905 1234L950 1226" stroke="#c6cdd5" stroke-width="23"/><path d="M528 1122L564 1108L564 1240L536 1228L505 1210M915 1118L869 1116L869 1240L905 1234L950 1226" stroke="#dde1e6" stroke-width="12"/></g>
<g filter="url(#nz)">
<g transform="translate(504 1136) rotate(-28) scale(1 0.955)"><use href="#b0" fill="#8994a2"/><use href="#b1" fill="url(#pv0)"/></g>
<g transform="translate(425 1111) rotate(-9.3) scale(1 0.929)"><use href="#b0" fill="#8994a2"/><use href="#b1" fill="url(#pv1)"/><g clip-path="url(#cp)" fill="none" stroke-linecap="round" stroke-dasharray="0 5.9"><use href="#b2" stroke="#a3adb9" stroke-width="6.2"/><use href="#b2" stroke="#f3f5f8" stroke-width="4.3"/></g></g>
<g transform="translate(352 1070.5) rotate(10.3) scale(1 0.930)"><use href="#b0" fill="#8994a2"/><use href="#b1" fill="url(#pv2)"/><g clip-path="url(#cp)" fill="none" stroke-linecap="round" stroke-dasharray="0 5.9"><use href="#b2" stroke="#a3adb9" stroke-width="6.2"/><use href="#b2" stroke="#f3f5f8" stroke-width="4.3"/></g></g>
<g transform="translate(288 1003) rotate(17) scale(1 0.940)"><use href="#b0" fill="#8994a2"/><use href="#b1" fill="url(#pv0)"/><g clip-path="url(#cp)" fill="none" stroke-linecap="round" stroke-dasharray="0 5.9"><use href="#b2" stroke="#a3adb9" stroke-width="6.2"/><use href="#b2" stroke="#f3f5f8" stroke-width="4.3"/></g></g>
<g transform="translate(249 924) rotate(29) scale(1 0.956)"><use href="#b0" fill="#8994a2"/><use href="#b1" fill="url(#pv1)"/><g clip-path="url(#cp)" fill="none" stroke-linecap="round" stroke-dasharray="0 5.9"><use href="#b2" stroke="#a3adb9" stroke-width="6.2"/><use href="#b2" stroke="#f3f5f8" stroke-width="4.3"/></g></g>
<g transform="translate(214 843) rotate(43) scale(1 0.973)"><use href="#b0" fill="#8994a2"/><use href="#b1" fill="url(#pv2)"/><g clip-path="url(#cn)" fill="none" stroke-linecap="round" stroke-dasharray="0 5.9"><use href="#b2" stroke="#a3adb9" stroke-width="6.2"/><use href="#b2" stroke="#f3f5f8" stroke-width="4.3"/></g></g>
<g transform="translate(214 755) rotate(63) scale(1 0.991)"><use href="#b0" fill="#8994a2"/><use href="#b1" fill="url(#pv0)"/><g clip-path="url(#cn)" fill="none" stroke-linecap="round" stroke-dasharray="0 5.9"><use href="#b2" stroke="#a3adb9" stroke-width="6.2"/><use href="#b2" stroke="#f3f5f8" stroke-width="4.3"/></g></g>
<g transform="translate(225 659) rotate(68) scale(1 0.994)"><use href="#b0" fill="#8994a2"/><use href="#b1" fill="url(#pv1)"/><g clip-path="url(#cn)" fill="none" stroke-linecap="round" stroke-dasharray="0 5.9"><use href="#b2" stroke="#a3adb9" stroke-width="6.2"/><use href="#b2" stroke="#f3f5f8" stroke-width="4.3"/></g></g>
<g transform="translate(251 572) rotate(79) scale(1 0.998)"><use href="#b0" fill="#8994a2"/><use href="#b1" fill="url(#pv2)"/><g clip-path="url(#cn)" fill="none" stroke-linecap="round" stroke-dasharray="0 5.9"><use href="#b2" stroke="#a3adb9" stroke-width="6.2"/><use href="#b2" stroke="#f3f5f8" stroke-width="4.3"/></g></g>
<g transform="translate(284 479) rotate(82) scale(1 0.999)"><use href="#b0" fill="#8994a2"/><use href="#b1" fill="url(#pv0)"/><g clip-path="url(#cn)" fill="none" stroke-linecap="round" stroke-dasharray="0 5.9"><use href="#b2" stroke="#a3adb9" stroke-width="6.2"/><use href="#b2" stroke="#f3f5f8" stroke-width="4.3"/></g></g>
<g transform="translate(337.5 405) rotate(97.6) scale(1 0.999)"><use href="#b0" fill="#8994a2"/><use href="#b1" fill="url(#pv1)"/><g clip-path="url(#cn)" fill="none" stroke-linecap="round" stroke-dasharray="0 5.9"><use href="#b2" stroke="#a3adb9" stroke-width="6.2"/><use href="#b2" stroke="#f3f5f8" stroke-width="4.3"/></g></g>
<g transform="translate(405 349) rotate(106.6) scale(1 0.996)"><use href="#b0" fill="#8994a2"/><use href="#b1" fill="url(#pv2)"/><g clip-path="url(#cp)" fill="none" stroke-linecap="round" stroke-dasharray="0 5.9"><use href="#b2" stroke="#a3adb9" stroke-width="6.2"/><use href="#b2" stroke="#f3f5f8" stroke-width="4.3"/></g></g>
<g transform="translate(482.5 290) rotate(112) scale(1 0.994)"><use href="#b0" fill="#8994a2"/><use href="#b1" fill="url(#pv0)"/><g clip-path="url(#cp)" fill="none" stroke-linecap="round" stroke-dasharray="0 5.9"><use href="#b2" stroke="#a3adb9" stroke-width="6.2"/><use href="#b2" stroke="#f3f5f8" stroke-width="4.3"/></g></g>
<g transform="translate(570 256) rotate(126) scale(1 0.984)"><use href="#b0" fill="#8994a2"/><use href="#b1" fill="url(#pv1)"/><g clip-path="url(#cp)" fill="none" stroke-linecap="round" stroke-dasharray="0 5.9"><use href="#b2" stroke="#a3adb9" stroke-width="6.2"/><use href="#b2" stroke="#f3f5f8" stroke-width="4.3"/></g></g>
<g transform="translate(659 245) rotate(140) scale(1 0.970)"><use href="#b0" fill="#8994a2"/><use href="#b1" fill="url(#pv2)"/><g clip-path="url(#cp)" fill="none" stroke-linecap="round" stroke-dasharray="0 5.9"><use href="#b2" stroke="#a3adb9" stroke-width="6.2"/><use href="#b2" stroke="#f3f5f8" stroke-width="4.3"/></g></g>
<g transform="translate(752 249) rotate(152) scale(1 0.955)"><use href="#b0" fill="#8994a2"/><use href="#b1" fill="url(#pv0)"/><g clip-path="url(#cp)" fill="none" stroke-linecap="round" stroke-dasharray="0 5.9"><use href="#b2" stroke="#a3adb9" stroke-width="6.2"/><use href="#b2" stroke="#f3f5f8" stroke-width="4.3"/></g></g>
<g transform="translate(846 275) rotate(165.5) scale(1 0.936)"><use href="#b0" fill="#8994a2"/><use href="#b1" fill="url(#pv1)"/><g clip-path="url(#cp)" fill="none" stroke-linecap="round" stroke-dasharray="0 5.9"><use href="#b2" stroke="#a3adb9" stroke-width="6.2"/><use href="#b2" stroke="#f3f5f8" stroke-width="4.3"/></g></g>
<g transform="translate(936 310) rotate(169.3) scale(1 0.931)"><use href="#b0" fill="#8994a2"/><use href="#b1" fill="url(#pv2)"/><g clip-path="url(#cp)" fill="none" stroke-linecap="round" stroke-dasharray="0 5.9"><use href="#b2" stroke="#a3adb9" stroke-width="6.2"/><use href="#b2" stroke="#f3f5f8" stroke-width="4.3"/></g></g>
<g transform="translate(1023 357) rotate(3) scale(1 0.919)"><use href="#b0" fill="#8994a2"/><use href="#b1" fill="url(#pv0)"/><g clip-path="url(#cn)" fill="none" stroke-linecap="round" stroke-dasharray="0 5.9"><use href="#b2" stroke="#a3adb9" stroke-width="6.2"/><use href="#b2" stroke="#f3f5f8" stroke-width="4.3"/></g></g>
<g transform="translate(1098.8 411) rotate(11) scale(1 0.931)"><use href="#b0" fill="#8994a2"/><use href="#b1" fill="url(#pv1)"/><g clip-path="url(#cn)" fill="none" stroke-linecap="round" stroke-dasharray="0 5.9"><use href="#b2" stroke="#a3adb9" stroke-width="6.2"/><use href="#b2" stroke="#f3f5f8" stroke-width="4.3"/></g></g>
<g transform="translate(1161 480) rotate(20) scale(1 0.944)"><use href="#b0" fill="#8994a2"/><use href="#b1" fill="url(#pv2)"/><g clip-path="url(#cn)" fill="none" stroke-linecap="round" stroke-dasharray="0 5.9"><use href="#b2" stroke="#a3adb9" stroke-width="6.2"/><use href="#b2" stroke="#f3f5f8" stroke-width="4.3"/></g></g>
<g transform="translate(1203.8 557.5) rotate(25) scale(1 0.951)"><use href="#b0" fill="#8994a2"/><use href="#b1" fill="url(#pv0)"/><g clip-path="url(#cn)" fill="none" stroke-linecap="round" stroke-dasharray="0 5.9"><use href="#b2" stroke="#a3adb9" stroke-width="6.2"/><use href="#b2" stroke="#f3f5f8" stroke-width="4.3"/></g></g>
<g transform="translate(1225 643.8) rotate(37) scale(1 0.966)"><use href="#b0" fill="#8994a2"/><use href="#b1" fill="url(#pv1)"/><g clip-path="url(#cn)" fill="none" stroke-linecap="round" stroke-dasharray="0 5.9"><use href="#b2" stroke="#a3adb9" stroke-width="6.2"/><use href="#b2" stroke="#f3f5f8" stroke-width="4.3"/></g></g>
<g transform="translate(1234 738) rotate(43.6) scale(1 0.974)"><use href="#b0" fill="#8994a2"/><use href="#b1" fill="url(#pv2)"/><g clip-path="url(#cn)" fill="none" stroke-linecap="round" stroke-dasharray="0 5.9"><use href="#b2" stroke="#a3adb9" stroke-width="6.2"/><use href="#b2" stroke="#f3f5f8" stroke-width="4.3"/></g></g>
<g transform="translate(1227.5 824) rotate(65) scale(1 0.992)"><use href="#b0" fill="#8994a2"/><use href="#b1" fill="url(#pv0)"/><g clip-path="url(#cn)" fill="none" stroke-linecap="round" stroke-dasharray="0 5.9"><use href="#b2" stroke="#a3adb9" stroke-width="6.2"/><use href="#b2" stroke="#f3f5f8" stroke-width="4.3"/></g></g>
<g transform="translate(1209.5 915.5) rotate(73.8) scale(1 0.997)"><use href="#b0" fill="#8994a2"/><use href="#b1" fill="url(#pv1)"/><g clip-path="url(#cn)" fill="none" stroke-linecap="round" stroke-dasharray="0 5.9"><use href="#b2" stroke="#a3adb9" stroke-width="6.2"/><use href="#b2" stroke="#f3f5f8" stroke-width="4.3"/></g></g>
<g transform="translate(1163 987) rotate(90) scale(1 1.000)"><use href="#b0" fill="#8994a2"/><use href="#b1" fill="url(#pv2)"/><g clip-path="url(#cn)" fill="none" stroke-linecap="round" stroke-dasharray="0 5.9"><use href="#b2" stroke="#a3adb9" stroke-width="6.2"/><use href="#b2" stroke="#f3f5f8" stroke-width="4.3"/></g></g>
<g transform="translate(1103.8 1058.8) rotate(102) scale(1 0.998)"><use href="#b0" fill="#8994a2"/><use href="#b1" fill="url(#pv0)"/><g clip-path="url(#cn)" fill="none" stroke-linecap="round" stroke-dasharray="0 5.9"><use href="#b2" stroke="#a3adb9" stroke-width="6.2"/><use href="#b2" stroke="#f3f5f8" stroke-width="4.3"/></g></g>
<g transform="translate(1032.5 1109.5) rotate(116.3) scale(1 0.991)"><use href="#b0" fill="#8994a2"/><use href="#b1" fill="url(#pv1)"/><g clip-path="url(#cn)" fill="none" stroke-linecap="round" stroke-dasharray="0 5.9"><use href="#b2" stroke="#a3adb9" stroke-width="6.2"/><use href="#b2" stroke="#f3f5f8" stroke-width="4.3"/></g></g>
<g transform="translate(945 1139) rotate(127.6) scale(1 0.982)"><use href="#b0" fill="#8994a2"/><use href="#b1" fill="url(#pv2)"/><g clip-path="url(#cn)" fill="none" stroke-linecap="round" stroke-dasharray="0 5.9"><use href="#b2" stroke="#a3adb9" stroke-width="6.2"/><use href="#b2" stroke="#f3f5f8" stroke-width="4.3"/></g></g>
<g transform="translate(469 1197) rotate(-10) scale(1 0.930)"><use href="#b0" fill="#8994a2"/><use href="#b1" fill="url(#pv1)"/><g clip-path="url(#cn)" fill="none" stroke-linecap="round" stroke-dasharray="0 5.9"><use href="#b2" stroke="#a3adb9" stroke-width="6.2"/><use href="#b2" stroke="#f3f5f8" stroke-width="4.3"/></g></g>
<g transform="translate(364 1161) rotate(4) scale(1 0.921)"><use href="#b0" fill="#8994a2"/><use href="#b1" fill="url(#pv2)"/><g clip-path="url(#cn)" fill="none" stroke-linecap="round" stroke-dasharray="0 5.9"><use href="#b2" stroke="#a3adb9" stroke-width="6.2"/><use href="#b2" stroke="#f3f5f8" stroke-width="4.3"/></g></g>
<g transform="translate(285 1094) rotate(15) scale(1 0.937)"><use href="#b0" fill="#8994a2"/><use href="#b1" fill="url(#pv0)"/><g clip-path="url(#cn)" fill="none" stroke-linecap="round" stroke-dasharray="0 5.9"><use href="#b2" stroke="#a3adb9" stroke-width="6.2"/><use href="#b2" stroke="#f3f5f8" stroke-width="4.3"/></g></g>
<g transform="translate(218 1005) rotate(25) scale(1 0.951)"><use href="#b0" fill="#8994a2"/><use href="#b1" fill="url(#pv1)"/><g clip-path="url(#cn)" fill="none" stroke-linecap="round" stroke-dasharray="0 5.9"><use href="#b2" stroke="#a3adb9" stroke-width="6.2"/><use href="#b2" stroke="#f3f5f8" stroke-width="4.3"/></g></g>
<g transform="translate(171 916) rotate(38) scale(1 0.967)"><use href="#b0" fill="#8994a2"/><use href="#b1" fill="url(#pv2)"/><g clip-path="url(#cn)" fill="none" stroke-linecap="round" stroke-dasharray="0 5.9"><use href="#b2" stroke="#a3adb9" stroke-width="6.2"/><use href="#b2" stroke="#f3f5f8" stroke-width="4.3"/></g></g>
<g transform="translate(147.5 813) rotate(60) scale(1 0.989)"><use href="#b0" fill="#8994a2"/><use href="#b1" fill="url(#pv0)"/><g clip-path="url(#cn)" fill="none" stroke-linecap="round" stroke-dasharray="0 5.9"><use href="#b2" stroke="#a3adb9" stroke-width="6.2"/><use href="#b2" stroke="#f3f5f8" stroke-width="4.3"/></g></g>
<g transform="translate(148 710) rotate(72) scale(1 0.996)"><use href="#b0" fill="#8994a2"/><use href="#b1" fill="url(#pv1)"/><g clip-path="url(#cn)" fill="none" stroke-linecap="round" stroke-dasharray="0 5.9"><use href="#b2" stroke="#a3adb9" stroke-width="6.2"/><use href="#b2" stroke="#f3f5f8" stroke-width="4.3"/></g></g>
<g transform="translate(158 609) rotate(80) scale(1 0.999)"><use href="#b0" fill="#8994a2"/><use href="#b1" fill="url(#pv2)"/><g clip-path="url(#cn)" fill="none" stroke-linecap="round" stroke-dasharray="0 5.9"><use href="#b2" stroke="#a3adb9" stroke-width="6.2"/><use href="#b2" stroke="#f3f5f8" stroke-width="4.3"/></g></g>
<g transform="translate(192.5 515) rotate(85) scale(1 1.000)"><use href="#b0" fill="#8994a2"/><use href="#b1" fill="url(#pv0)"/><g clip-path="url(#cn)" fill="none" stroke-linecap="round" stroke-dasharray="0 5.9"><use href="#b2" stroke="#a3adb9" stroke-width="6.2"/><use href="#b2" stroke="#f3f5f8" stroke-width="4.3"/></g></g>
<g transform="translate(237.5 416) rotate(96) scale(1 1.000)"><use href="#b0" fill="#8994a2"/><use href="#b1" fill="url(#pv1)"/><g clip-path="url(#cn)" fill="none" stroke-linecap="round" stroke-dasharray="0 5.9"><use href="#b2" stroke="#a3adb9" stroke-width="6.2"/><use href="#b2" stroke="#f3f5f8" stroke-width="4.3"/></g></g>
<g transform="translate(310 342.5) rotate(108) scale(1 0.996)"><use href="#b0" fill="#8994a2"/><use href="#b1" fill="url(#pv2)"/><g clip-path="url(#cn)" fill="none" stroke-linecap="round" stroke-dasharray="0 5.9"><use href="#b2" stroke="#a3adb9" stroke-width="6.2"/><use href="#b2" stroke="#f3f5f8" stroke-width="4.3"/></g></g>
<g transform="translate(392.5 270) rotate(116) scale(1 0.991)"><use href="#b0" fill="#8994a2"/><use href="#b1" fill="url(#pv0)"/><g clip-path="url(#cn)" fill="none" stroke-linecap="round" stroke-dasharray="0 5.9"><use href="#b2" stroke="#a3adb9" stroke-width="6.2"/><use href="#b2" stroke="#f3f5f8" stroke-width="4.3"/></g></g>
<g transform="translate(482.5 220) rotate(126) scale(1 0.984)"><use href="#b0" fill="#8994a2"/><use href="#b1" fill="url(#pv1)"/><g clip-path="url(#cn)" fill="none" stroke-linecap="round" stroke-dasharray="0 5.9"><use href="#b2" stroke="#a3adb9" stroke-width="6.2"/><use href="#b2" stroke="#f3f5f8" stroke-width="4.3"/></g></g>
<g transform="translate(587.5 188) rotate(138) scale(1 0.972)"><use href="#b0" fill="#8994a2"/><use href="#b1" fill="url(#pv2)"/><g clip-path="url(#cn)" fill="none" stroke-linecap="round" stroke-dasharray="0 5.9"><use href="#b2" stroke="#a3adb9" stroke-width="6.2"/><use href="#b2" stroke="#f3f5f8" stroke-width="4.3"/></g></g>
<g transform="translate(695 186.5) rotate(148) scale(1 0.960)"><use href="#b0" fill="#8994a2"/><use href="#b1" fill="url(#pv0)"/><g clip-path="url(#cn)" fill="none" stroke-linecap="round" stroke-dasharray="0 5.9"><use href="#b2" stroke="#a3adb9" stroke-width="6.2"/><use href="#b2" stroke="#f3f5f8" stroke-width="4.3"/></g></g>
<g transform="translate(802.5 189) rotate(164) scale(1 0.938)"><use href="#b0" fill="#8994a2"/><use href="#b1" fill="url(#pv1)"/><g clip-path="url(#cn)" fill="none" stroke-linecap="round" stroke-dasharray="0 5.9"><use href="#b2" stroke="#a3adb9" stroke-width="6.2"/><use href="#b2" stroke="#f3f5f8" stroke-width="4.3"/></g></g>
<g transform="translate(902.5 222.5) rotate(169) scale(1 0.931)"><use href="#b0" fill="#8994a2"/><use href="#b1" fill="url(#pv2)"/><g clip-path="url(#cn)" fill="none" stroke-linecap="round" stroke-dasharray="0 5.9"><use href="#b2" stroke="#a3adb9" stroke-width="6.2"/><use href="#b2" stroke="#f3f5f8" stroke-width="4.3"/></g></g>
<g transform="translate(1002 260) rotate(177) scale(1 0.919)"><use href="#b0" fill="#8994a2"/><use href="#b1" fill="url(#pv0)"/><g clip-path="url(#cn)" fill="none" stroke-linecap="round" stroke-dasharray="0 5.9"><use href="#b2" stroke="#a3adb9" stroke-width="6.2"/><use href="#b2" stroke="#f3f5f8" stroke-width="4.3"/></g></g>
<g transform="translate(1090 317.5) rotate(6.6) scale(1 0.925)"><use href="#b0" fill="#8994a2"/><use href="#b1" fill="url(#pv1)"/><g clip-path="url(#cp)" fill="none" stroke-linecap="round" stroke-dasharray="0 5.9"><use href="#b2" stroke="#a3adb9" stroke-width="6.2"/><use href="#b2" stroke="#f3f5f8" stroke-width="4.3"/></g></g>
<g transform="translate(1172.5 387.5) rotate(16) scale(1 0.938)"><use href="#b0" fill="#8994a2"/><use href="#b1" fill="url(#pv2)"/><g clip-path="url(#cp)" fill="none" stroke-linecap="round" stroke-dasharray="0 5.9"><use href="#b2" stroke="#a3adb9" stroke-width="6.2"/><use href="#b2" stroke="#f3f5f8" stroke-width="4.3"/></g></g>
<g transform="translate(1235 471) rotate(23.6) scale(1 0.949)"><use href="#b0" fill="#8994a2"/><use href="#b1" fill="url(#pv0)"/><g clip-path="url(#cp)" fill="none" stroke-linecap="round" stroke-dasharray="0 5.9"><use href="#b2" stroke="#a3adb9" stroke-width="6.2"/><use href="#b2" stroke="#f3f5f8" stroke-width="4.3"/></g></g>
<g transform="translate(1276 566) rotate(39.8) scale(1 0.969)"><use href="#b0" fill="#8994a2"/><use href="#b1" fill="url(#pv1)"/><g clip-path="url(#cp)" fill="none" stroke-linecap="round" stroke-dasharray="0 5.9"><use href="#b2" stroke="#a3adb9" stroke-width="6.2"/><use href="#b2" stroke="#f3f5f8" stroke-width="4.3"/></g></g>
<g transform="translate(1289 666) rotate(46.5) scale(1 0.977)"><use href="#b0" fill="#8994a2"/><use href="#b1" fill="url(#pv2)"/><g clip-path="url(#cp)" fill="none" stroke-linecap="round" stroke-dasharray="0 5.9"><use href="#b2" stroke="#a3adb9" stroke-width="6.2"/><use href="#b2" stroke="#f3f5f8" stroke-width="4.3"/></g></g>
<g transform="translate(1298 769) rotate(58) scale(1 0.987)"><use href="#b0" fill="#8994a2"/><use href="#b1" fill="url(#pv0)"/><g clip-path="url(#cp)" fill="none" stroke-linecap="round" stroke-dasharray="0 5.9"><use href="#b2" stroke="#a3adb9" stroke-width="6.2"/><use href="#b2" stroke="#f3f5f8" stroke-width="4.3"/></g></g>
<g transform="translate(1290 868) rotate(73.7) scale(1 0.997)"><use href="#b0" fill="#8994a2"/><use href="#b1" fill="url(#pv1)"/><g clip-path="url(#cp)" fill="none" stroke-linecap="round" stroke-dasharray="0 5.9"><use href="#b2" stroke="#a3adb9" stroke-width="6.2"/><use href="#b2" stroke="#f3f5f8" stroke-width="4.3"/></g></g>
<g transform="translate(1264 965.5) rotate(78) scale(1 0.998)"><use href="#b0" fill="#8994a2"/><use href="#b1" fill="url(#pv2)"/><g clip-path="url(#cp)" fill="none" stroke-linecap="round" stroke-dasharray="0 5.9"><use href="#b2" stroke="#a3adb9" stroke-width="6.2"/><use href="#b2" stroke="#f3f5f8" stroke-width="4.3"/></g></g>
<g transform="translate(1205 1053) rotate(96) scale(1 1.000)"><use href="#b0" fill="#8994a2"/><use href="#b1" fill="url(#pv0)"/><g clip-path="url(#cp)" fill="none" stroke-linecap="round" stroke-dasharray="0 5.9"><use href="#b2" stroke="#a3adb9" stroke-width="6.2"/><use href="#b2" stroke="#f3f5f8" stroke-width="4.3"/></g></g>
<g transform="translate(1123.8 1132) rotate(118.6) scale(1 0.990)"><use href="#b0" fill="#8994a2"/><use href="#b1" fill="url(#pv1)"/><g clip-path="url(#cp)" fill="none" stroke-linecap="round" stroke-dasharray="0 5.9"><use href="#b2" stroke="#a3adb9" stroke-width="6.2"/><use href="#b2" stroke="#f3f5f8" stroke-width="4.3"/></g></g>
<g transform="translate(1029.5 1175.5) rotate(129.6) scale(1 0.980)"><use href="#b0" fill="#8994a2"/><use href="#b1" fill="url(#pv2)"/><g clip-path="url(#cp)" fill="none" stroke-linecap="round" stroke-dasharray="0 5.9"><use href="#b2" stroke="#a3adb9" stroke-width="6.2"/><use href="#b2" stroke="#f3f5f8" stroke-width="4.3"/></g></g>
<g transform="translate(931 1207.5) rotate(143) scale(1 0.966)"><use href="#b0" fill="#8994a2"/><use href="#b1" fill="url(#pv0)"/></g>
<g transform="translate(504 1136) rotate(-28) scale(1 0.955)" clip-path="url(#hn)"><use href="#b0" fill="#8994a2"/><use href="#b1" fill="url(#pv0)"/></g>
<g transform="translate(425 1111) rotate(-9.3) scale(1 0.929)" clip-path="url(#hn)"><use href="#b0" fill="#8994a2"/><use href="#b1" fill="url(#pv1)"/><g clip-path="url(#cp)" fill="none" stroke-linecap="round" stroke-dasharray="0 5.9"><use href="#b2" stroke="#a3adb9" stroke-width="6.2"/><use href="#b2" stroke="#f3f5f8" stroke-width="4.3"/></g></g>
<g transform="translate(352 1070.5) rotate(10.3) scale(1 0.930)" clip-path="url(#hn)"><use href="#b0" fill="#8994a2"/><use href="#b1" fill="url(#pv2)"/><g clip-path="url(#cp)" fill="none" stroke-linecap="round" stroke-dasharray="0 5.9"><use href="#b2" stroke="#a3adb9" stroke-width="6.2"/><use href="#b2" stroke="#f3f5f8" stroke-width="4.3"/></g></g>
<g transform="translate(288 1003) rotate(17) scale(1 0.940)" clip-path="url(#hn)"><use href="#b0" fill="#8994a2"/><use href="#b1" fill="url(#pv0)"/><g clip-path="url(#cp)" fill="none" stroke-linecap="round" stroke-dasharray="0 5.9"><use href="#b2" stroke="#a3adb9" stroke-width="6.2"/><use href="#b2" stroke="#f3f5f8" stroke-width="4.3"/></g></g>
<g transform="translate(249 924) rotate(29) scale(1 0.956)" clip-path="url(#hn)"><use href="#b0" fill="#8994a2"/><use href="#b1" fill="url(#pv1)"/><g clip-path="url(#cp)" fill="none" stroke-linecap="round" stroke-dasharray="0 5.9"><use href="#b2" stroke="#a3adb9" stroke-width="6.2"/><use href="#b2" stroke="#f3f5f8" stroke-width="4.3"/></g></g>
<g transform="translate(214 843) rotate(43) scale(1 0.973)" clip-path="url(#hn)"><use href="#b0" fill="#8994a2"/><use href="#b1" fill="url(#pv2)"/><g clip-path="url(#cn)" fill="none" stroke-linecap="round" stroke-dasharray="0 5.9"><use href="#b2" stroke="#a3adb9" stroke-width="6.2"/><use href="#b2" stroke="#f3f5f8" stroke-width="4.3"/></g></g>
<g transform="translate(214 755) rotate(63) scale(1 0.991)" clip-path="url(#hn)"><use href="#b0" fill="#8994a2"/><use href="#b1" fill="url(#pv0)"/><g clip-path="url(#cn)" fill="none" stroke-linecap="round" stroke-dasharray="0 5.9"><use href="#b2" stroke="#a3adb9" stroke-width="6.2"/><use href="#b2" stroke="#f3f5f8" stroke-width="4.3"/></g></g>
<g transform="translate(225 659) rotate(68) scale(1 0.994)" clip-path="url(#hn)"><use href="#b0" fill="#8994a2"/><use href="#b1" fill="url(#pv1)"/><g clip-path="url(#cn)" fill="none" stroke-linecap="round" stroke-dasharray="0 5.9"><use href="#b2" stroke="#a3adb9" stroke-width="6.2"/><use href="#b2" stroke="#f3f5f8" stroke-width="4.3"/></g></g>
<g transform="translate(251 572) rotate(79) scale(1 0.998)" clip-path="url(#hn)"><use href="#b0" fill="#8994a2"/><use href="#b1" fill="url(#pv2)"/><g clip-path="url(#cn)" fill="none" stroke-linecap="round" stroke-dasharray="0 5.9"><use href="#b2" stroke="#a3adb9" stroke-width="6.2"/><use href="#b2" stroke="#f3f5f8" stroke-width="4.3"/></g></g>
<g transform="translate(284 479) rotate(82) scale(1 0.999)" clip-path="url(#hn)"><use href="#b0" fill="#8994a2"/><use href="#b1" fill="url(#pv0)"/><g clip-path="url(#cn)" fill="none" stroke-linecap="round" stroke-dasharray="0 5.9"><use href="#b2" stroke="#a3adb9" stroke-width="6.2"/><use href="#b2" stroke="#f3f5f8" stroke-width="4.3"/></g></g>
<g transform="translate(337.5 405) rotate(97.6) scale(1 0.999)" clip-path="url(#hn)"><use href="#b0" fill="#8994a2"/><use href="#b1" fill="url(#pv1)"/><g clip-path="url(#cn)" fill="none" stroke-linecap="round" stroke-dasharray="0 5.9"><use href="#b2" stroke="#a3adb9" stroke-width="6.2"/><use href="#b2" stroke="#f3f5f8" stroke-width="4.3"/></g></g>
<g transform="translate(405 349) rotate(106.6) scale(1 0.996)" clip-path="url(#hn)"><use href="#b0" fill="#8994a2"/><use href="#b1" fill="url(#pv2)"/><g clip-path="url(#cp)" fill="none" stroke-linecap="round" stroke-dasharray="0 5.9"><use href="#b2" stroke="#a3adb9" stroke-width="6.2"/><use href="#b2" stroke="#f3f5f8" stroke-width="4.3"/></g></g>
<g transform="translate(482.5 290) rotate(112) scale(1 0.994)" clip-path="url(#hn)"><use href="#b0" fill="#8994a2"/><use href="#b1" fill="url(#pv0)"/><g clip-path="url(#cp)" fill="none" stroke-linecap="round" stroke-dasharray="0 5.9"><use href="#b2" stroke="#a3adb9" stroke-width="6.2"/><use href="#b2" stroke="#f3f5f8" stroke-width="4.3"/></g></g>
<g transform="translate(570 256) rotate(126) scale(1 0.984)" clip-path="url(#hn)"><use href="#b0" fill="#8994a2"/><use href="#b1" fill="url(#pv1)"/><g clip-path="url(#cp)" fill="none" stroke-linecap="round" stroke-dasharray="0 5.9"><use href="#b2" stroke="#a3adb9" stroke-width="6.2"/><use href="#b2" stroke="#f3f5f8" stroke-width="4.3"/></g></g>
<g transform="translate(659 245) rotate(140) scale(1 0.970)" clip-path="url(#hn)"><use href="#b0" fill="#8994a2"/><use href="#b1" fill="url(#pv2)"/><g clip-path="url(#cp)" fill="none" stroke-linecap="round" stroke-dasharray="0 5.9"><use href="#b2" stroke="#a3adb9" stroke-width="6.2"/><use href="#b2" stroke="#f3f5f8" stroke-width="4.3"/></g></g>
<g transform="translate(752 249) rotate(152) scale(1 0.955)" clip-path="url(#hn)"><use href="#b0" fill="#8994a2"/><use href="#b1" fill="url(#pv0)"/><g clip-path="url(#cp)" fill="none" stroke-linecap="round" stroke-dasharray="0 5.9"><use href="#b2" stroke="#a3adb9" stroke-width="6.2"/><use href="#b2" stroke="#f3f5f8" stroke-width="4.3"/></g></g>
<g transform="translate(846 275) rotate(165.5) scale(1 0.936)" clip-path="url(#hn)"><use href="#b0" fill="#8994a2"/><use href="#b1" fill="url(#pv1)"/><g clip-path="url(#cp)" fill="none" stroke-linecap="round" stroke-dasharray="0 5.9"><use href="#b2" stroke="#a3adb9" stroke-width="6.2"/><use href="#b2" stroke="#f3f5f8" stroke-width="4.3"/></g></g>
<g transform="translate(936 310) rotate(169.3) scale(1 0.931)" clip-path="url(#hn)"><use href="#b0" fill="#8994a2"/><use href="#b1" fill="url(#pv2)"/><g clip-path="url(#cp)" fill="none" stroke-linecap="round" stroke-dasharray="0 5.9"><use href="#b2" stroke="#a3adb9" stroke-width="6.2"/><use href="#b2" stroke="#f3f5f8" stroke-width="4.3"/></g></g>
<g transform="translate(1023 357) rotate(3) scale(1 0.919)" clip-path="url(#hp)"><use href="#b0" fill="#8994a2"/><use href="#b1" fill="url(#pv0)"/><g clip-path="url(#cn)" fill="none" stroke-linecap="round" stroke-dasharray="0 5.9"><use href="#b2" stroke="#a3adb9" stroke-width="6.2"/><use href="#b2" stroke="#f3f5f8" stroke-width="4.3"/></g></g>
<g transform="translate(1098.8 411) rotate(11) scale(1 0.931)" clip-path="url(#hp)"><use href="#b0" fill="#8994a2"/><use href="#b1" fill="url(#pv1)"/><g clip-path="url(#cn)" fill="none" stroke-linecap="round" stroke-dasharray="0 5.9"><use href="#b2" stroke="#a3adb9" stroke-width="6.2"/><use href="#b2" stroke="#f3f5f8" stroke-width="4.3"/></g></g>
<g transform="translate(1161 480) rotate(20) scale(1 0.944)" clip-path="url(#hp)"><use href="#b0" fill="#8994a2"/><use href="#b1" fill="url(#pv2)"/><g clip-path="url(#cn)" fill="none" stroke-linecap="round" stroke-dasharray="0 5.9"><use href="#b2" stroke="#a3adb9" stroke-width="6.2"/><use href="#b2" stroke="#f3f5f8" stroke-width="4.3"/></g></g>
<g transform="translate(1203.8 557.5) rotate(25) scale(1 0.951)" clip-path="url(#hp)"><use href="#b0" fill="#8994a2"/><use href="#b1" fill="url(#pv0)"/><g clip-path="url(#cn)" fill="none" stroke-linecap="round" stroke-dasharray="0 5.9"><use href="#b2" stroke="#a3adb9" stroke-width="6.2"/><use href="#b2" stroke="#f3f5f8" stroke-width="4.3"/></g></g>
<g transform="translate(1225 643.8) rotate(37) scale(1 0.966)" clip-path="url(#hp)"><use href="#b0" fill="#8994a2"/><use href="#b1" fill="url(#pv1)"/><g clip-path="url(#cn)" fill="none" stroke-linecap="round" stroke-dasharray="0 5.9"><use href="#b2" stroke="#a3adb9" stroke-width="6.2"/><use href="#b2" stroke="#f3f5f8" stroke-width="4.3"/></g></g>
<g transform="translate(1234 738) rotate(43.6) scale(1 0.974)" clip-path="url(#hp)"><use href="#b0" fill="#8994a2"/><use href="#b1" fill="url(#pv2)"/><g clip-path="url(#cn)" fill="none" stroke-linecap="round" stroke-dasharray="0 5.9"><use href="#b2" stroke="#a3adb9" stroke-width="6.2"/><use href="#b2" stroke="#f3f5f8" stroke-width="4.3"/></g></g>
<g transform="translate(1227.5 824) rotate(65) scale(1 0.992)" clip-path="url(#hp)"><use href="#b0" fill="#8994a2"/><use href="#b1" fill="url(#pv0)"/><g clip-path="url(#cn)" fill="none" stroke-linecap="round" stroke-dasharray="0 5.9"><use href="#b2" stroke="#a3adb9" stroke-width="6.2"/><use href="#b2" stroke="#f3f5f8" stroke-width="4.3"/></g></g>
<g transform="translate(1209.5 915.5) rotate(73.8) scale(1 0.997)" clip-path="url(#hp)"><use href="#b0" fill="#8994a2"/><use href="#b1" fill="url(#pv1)"/><g clip-path="url(#cn)" fill="none" stroke-linecap="round" stroke-dasharray="0 5.9"><use href="#b2" stroke="#a3adb9" stroke-width="6.2"/><use href="#b2" stroke="#f3f5f8" stroke-width="4.3"/></g></g>
<g transform="translate(1163 987) rotate(90) scale(1 1.000)" clip-path="url(#hp)"><use href="#b0" fill="#8994a2"/><use href="#b1" fill="url(#pv2)"/><g clip-path="url(#cn)" fill="none" stroke-linecap="round" stroke-dasharray="0 5.9"><use href="#b2" stroke="#a3adb9" stroke-width="6.2"/><use href="#b2" stroke="#f3f5f8" stroke-width="4.3"/></g></g>
<g transform="translate(1103.8 1058.8) rotate(102) scale(1 0.998)" clip-path="url(#hp)"><use href="#b0" fill="#8994a2"/><use href="#b1" fill="url(#pv0)"/><g clip-path="url(#cn)" fill="none" stroke-linecap="round" stroke-dasharray="0 5.9"><use href="#b2" stroke="#a3adb9" stroke-width="6.2"/><use href="#b2" stroke="#f3f5f8" stroke-width="4.3"/></g></g>
<g transform="translate(1032.5 1109.5) rotate(116.3) scale(1 0.991)" clip-path="url(#hp)"><use href="#b0" fill="#8994a2"/><use href="#b1" fill="url(#pv1)"/><g clip-path="url(#cn)" fill="none" stroke-linecap="round" stroke-dasharray="0 5.9"><use href="#b2" stroke="#a3adb9" stroke-width="6.2"/><use href="#b2" stroke="#f3f5f8" stroke-width="4.3"/></g></g>
<g transform="translate(945 1139) rotate(127.6) scale(1 0.982)" clip-path="url(#hp)"><use href="#b0" fill="#8994a2"/><use href="#b1" fill="url(#pv2)"/><g clip-path="url(#cn)" fill="none" stroke-linecap="round" stroke-dasharray="0 5.9"><use href="#b2" stroke="#a3adb9" stroke-width="6.2"/><use href="#b2" stroke="#f3f5f8" stroke-width="4.3"/></g></g>
</g>
<g>
<g filter="url(#nz)"><rect x="514" y="1211" width="44" height="33" rx="14" fill="#9da8b5"/><rect x="515" y="1212" width="42" height="31" rx="13" fill="url(#pv2)"/>
<rect x="876" y="1103.5" width="47" height="25" rx="11" fill="#9da8b5"/><rect x="877" y="1104.5" width="45" height="23" rx="10" fill="url(#pv1)"/>
<rect x="876" y="1213" width="88" height="38.5" rx="16" fill="#9da8b5"/><rect x="877" y="1214" width="86" height="36.5" rx="15" fill="url(#pv0)"/></g>
<rect x="684.7" y="1090" width="86.3" height="17.5" fill="#a3abb5"/><rect x="684.7" y="1090" width="86.3" height="2" fill="#e3e7ec"/><rect x="684.7" y="1090" width="2.5" height="17.5" fill="#d9dee4"/><rect x="690.5" y="1094" width="76" height="9.5" fill="#6f7884"/><rect x="692" y="1095.5" width="70" height="2.5" fill="#c9cfd7"/>
<rect x="579.7" y="1102" width="271" height="157.5" fill="#b7c0cb"/>
<rect x="579.7" y="1102" width="271" height="12" fill="#e6e9ee"/>
<rect x="579.7" y="1102" width="271" height="1.5" fill="#c5ccd5"/>
<g filter="url(#nz2)"><rect x="580.5" y="1113" width="269.5" height="144" fill="url(#cs)"/><rect x="580.5" y="1113" width="269.5" height="144" fill="url(#cl)"/></g>
<rect x="579.7" y="1256.5" width="271" height="3" fill="#b5bdc8"/>
<rect x="850.7" y="1106" width="9.8" height="148" fill="#98a2ae"/><rect x="853" y="1112" width="4" height="138" fill="#7c8693"/>
<rect x="574.3" y="1110" width="5.4" height="144" fill="#a0a9b4"/>
<rect x="554.5" y="1096.7" width="21.3" height="22" fill="#e4e8ec"/><rect x="554.5" y="1096.7" width="21.3" height="22" fill="none" stroke="#b4bcc6" stroke-width="1"/>
<g filter="url(#nz)"><rect x="554.5" y="1117.3" width="19.8" height="134.4" rx="4" fill="#9da8b5"/><rect x="555.3" y="1118" width="18.2" height="133" rx="3.5" fill="url(#pv0)"/>
<rect x="859.5" y="1113.5" width="21" height="138" rx="4" fill="#9da8b5"/><rect x="860.3" y="1114.3" width="19.4" height="136.4" rx="3.5" fill="url(#pv1)"/></g>
</g>
<g fill="#838383">
<rect x="96.2" y="209.5" width="4" height="1048.6"/><rect x="96.2" y="209.5" width="116" height="4.6"/><rect x="96.2" y="1253.5" width="116" height="4.6"/>
<rect x="251" y="1224.8" width="5.6" height="64.4"/><rect x="251" y="1285.5" width="892.7" height="3.7"/><rect x="1139.2" y="1224.8" width="4.5" height="64.4"/>
<rect x="1167.2" y="129" width="3" height="100"/><rect x="973" y="225.8" width="197.2" height="3.2"/>
<rect x="1110.5" y="1079.8" width="236.5" height="3.2"/><rect x="1343.8" y="1079.8" width="3.2" height="100"/>
</g>
<text x="1075.5" y="121.7" font-size="30.2" textLength="218.5" lengthAdjust="spacingAndGlyphs">Rhoduim Plated</text>
<text x="1182.5" y="1209.7" font-size="31" textLength="228" lengthAdjust="spacingAndGlyphs">Moissanite Stone</text>
<text x="12.5" y="798.5" font-size="47" textLength="79" lengthAdjust="spacingAndGlyphs">8.5''</text>
<text x="565.5" y="1387.7" font-size="45" textLength="205.5" lengthAdjust="spacingAndGlyphs">Width : 10</text>
</svg>
</body></html>
